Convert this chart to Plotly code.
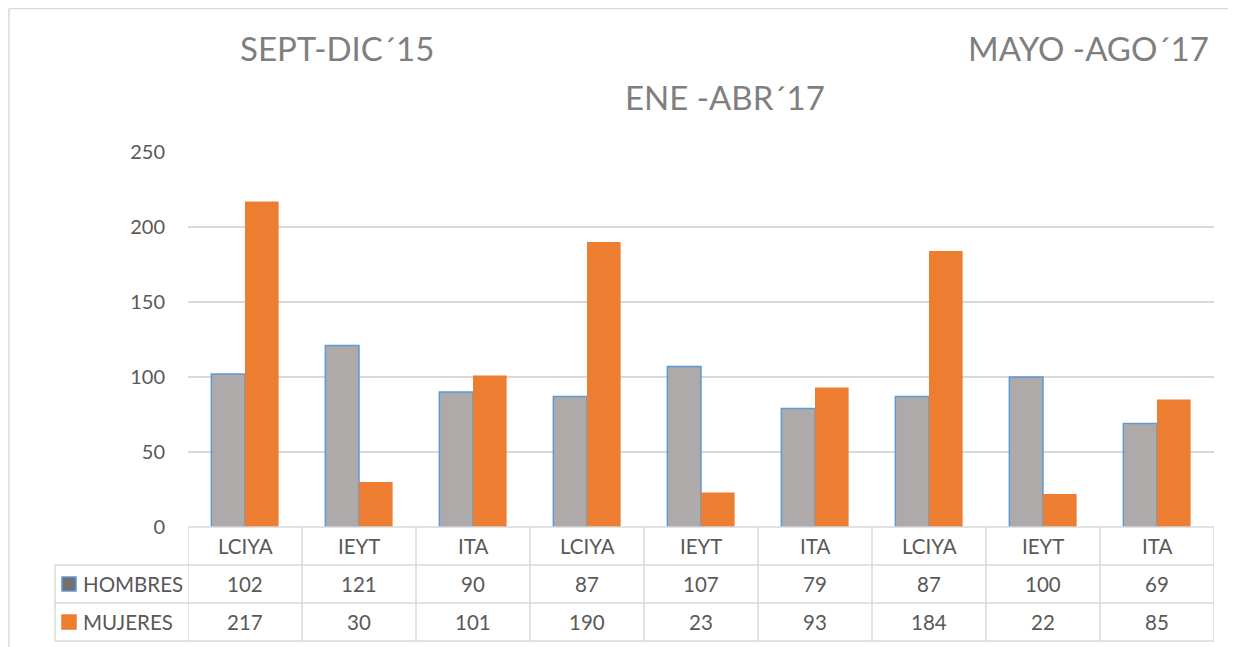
import plotly.graph_objects as go

# Data
categories = ["LCIYA", "IEYT", "ITA", "LCIYA", "IEYT", "ITA", "LCIYA", "IEYT", "ITA"]
hombres = [102, 121, 90, 87, 107, 79, 87, 100, 69]
mujeres = [217, 30, 101, 190, 23, 93, 184, 22, 85]
periods = ["SEPT-DIC´15", "ENE -ABR´17", "MAYO -AGO´17"]
y_ticks = [0, 50, 100, 150, 200, 250]

FONT = "Lato"
TXT = "#595959"
GRID = "#d9d9d9"
GRAY = "#AEAAAA"
ORANGE = "#ED7D31"
BLUE = "#5B9BD5"

# page body has an 8px margin, so screen coords = figure coords + 8
OFF = 8
W, H = 1228, 639
L, R, T, B = 180, 22, 144, 120
PW = W - L - R
PH = H - T - B

xs = list(range(len(categories)))

fig = go.Figure()
fig.add_trace(go.Bar(x=xs, y=hombres, name="HOMBRES", marker_color=GRAY,
                     marker_line=dict(color=BLUE, width=1.5)))
fig.add_trace(go.Bar(x=xs, y=mujeres, name="MUJERES", marker_color=ORANGE,
                     marker_line=dict(color=ORANGE, width=0)))


def px_x(p):
    # screen pixel x -> paper x
    return (p - OFF - L) / PW


def px_y(p):
    # screen pixel y -> paper y
    return (H - B - (p - OFF)) / PH


y0_scr = H - B + OFF  # screen y of the zero line
row_h = 38
shapes = []
annos = []

# data table grid
n = len(categories)
for i in range(n + 1):
    shapes.append(dict(type="line", xref="x", yref="paper", x0=i - 0.5, x1=i - 0.5,
                       y0=0, y1=px_y(y0_scr + 3 * row_h), line=dict(color=GRID, width=1.5)))
for k in range(0, 4):
    yy = px_y(y0_scr + k * row_h)
    x0 = 0 if k == 0 else px_x(55)
    shapes.append(dict(type="line", xref="paper", yref="paper", x0=x0, x1=1,
                       y0=yy, y1=yy, line=dict(color=GRID, width=1.5)))
shapes.append(dict(type="line", xref="paper", yref="paper", x0=px_x(55), x1=px_x(55),
                   y0=px_y(y0_scr + row_h), y1=px_y(y0_scr + 3 * row_h),
                   line=dict(color=GRID, width=1.5)))
# chart area border
shapes.append(dict(type="line", xref="paper", yref="paper", x0=px_x(9), x1=px_x(W + OFF + 5),
                   y0=px_y(8.5), y1=px_y(8.5), line=dict(color=GRID, width=1.5)))
shapes.append(dict(type="line", xref="paper", yref="paper", x0=px_x(9), x1=px_x(9),
                   y0=px_y(8.5), y1=px_y(H + OFF + 5), line=dict(color=GRID, width=1.5)))

# legend keys
for k, (fill, edge) in enumerate([("#767171", BLUE), (ORANGE, ORANGE)]):
    cy = y0_scr + (k + 1.5) * row_h
    shapes.append(dict(type="rect", xref="paper", yref="paper",
                       x0=px_x(62), x1=px_x(76), y0=px_y(cy - 7), y1=px_y(cy + 7),
                       fillcolor=fill, line=dict(color=edge, width=1.5)))

cell_font = dict(family=FONT, size=20.5, color=TXT)
for i, c in enumerate(categories):
    for k, txt in enumerate([c, str(hombres[i]), str(mujeres[i])]):
        annos.append(dict(x=i, y=0, xref="x", yref="paper", yshift=-(k + 0.5) * row_h,
                          xanchor="center", yanchor="middle", text=txt,
                          showarrow=False, font=cell_font))

for k, name in enumerate(["HOMBRES", "MUJERES"]):
    annos.append(dict(x=px_x(81), y=0, xref="paper", yref="paper", yshift=-(k + 1.5) * row_h,
                      xanchor="left", yanchor="middle", text=name, showarrow=False,
                      font=cell_font))

# period titles
for name, cx, cy in zip(periods, [337, 725, 1088], [48, 97, 48]):
    annos.append(dict(x=px_x(cx), y=px_y(cy), xref="paper", yref="paper", text=name,
                      xanchor="center", yanchor="middle",
                      showarrow=False, font=dict(family=FONT, size=33, color="#7f7f7f")))

fig.update_layout(
    width=W, height=H,
    margin=dict(l=L, r=R, t=T, b=B),
    paper_bgcolor="white", plot_bgcolor="white",
    barmode="group", bargap=0.41, bargroupgap=0,
    showlegend=False,
    shapes=shapes, annotations=annos,
    font=dict(family=FONT, color=TXT),
)
fig.update_xaxes(range=[-0.5, n - 0.5], showticklabels=False, showgrid=False,
                 zeroline=False, showline=False)
fig.update_yaxes(range=[0, 250], tickvals=y_ticks, showgrid=True, gridcolor=GRID,
                 gridwidth=1.5, zeroline=False,
                 tickfont=dict(family=FONT, size=20, color=TXT), ticklabelstandoff=22)

fig.write_html("out.html")
